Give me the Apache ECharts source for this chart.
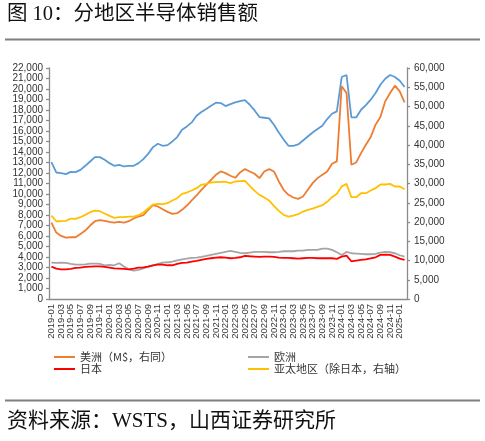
<!DOCTYPE html>
<html>
<head>
<meta charset="utf-8">
<script src="https://cdn.jsdelivr.net/npm/echarts@6/dist/echarts.min.js"></script>
<style>
html,body{margin:0;padding:0;background:#fff;}
#c{width:485px;height:441px;}
</style>
</head>
<body>
<div id="c"></div>
<script>
// Months 2019-01 .. 2025-02
const months = [];
for (let y = 2019; y <= 2025; y++) {
  for (let m = 1; m <= 12; m++) {
    if (y === 2025 && m > 2) break;
    months.push(y + '-' + (m < 10 ? '0' + m : m));
  }
}

// 全球 (right axis, M$)
const world = [35547,32860,32686,32426,33033,32946,33553,34593,35720,36848,36848,36154,35287,34593,34853,34420,34593,34593,35287,36327,37715,39449,40316,39795,39969,
40922,42050,43957,44824,45864,47598,48552,49332,50199,50980,50893,50113,50633,51066,51413,51673,50459,48986,47252,47078,46905,45257,43263,41400,39795,
39795,40142,41183,42223,43263,44130,44997,46731,48119,48725,57656,58176,47165,47165,49159,50373,51760,53494,55661,57222,58176,57656,56702,55055];

// 美洲 (left axis)
const americas = [7282,6328,6010,5851,5883,5883,6201,6519,6996,7409,7505,7441,7346,7282,7346,7282,7409,7664,7855,7982,8491,8936,8809,8554,8300,
8109,8173,8491,8904,9381,9858,10399,10876,11353,11830,12148,11989,11735,11544,12053,12371,12148,11925,11512,12148,12371,12148,11194,10399,9922,
9667,9540,9763,10399,11035,11512,11830,12148,12879,13102,20257,19621,12784,13006,13897,14692,15423,16600,17331,18826,19621,20320,19780,18730];

// 欧洲 (left axis)
const europe = [3466,3434,3466,3434,3339,3275,3275,3307,3371,3371,3339,3212,3244,3212,3403,3085,2830,2703,2767,2926,3085,3212,3339,3466,3498,
3562,3689,3784,3848,3911,3943,4007,4102,4198,4293,4388,4484,4579,4484,4388,4357,4420,4484,4484,4484,4452,4452,4484,4547,4547,
4547,4611,4611,4675,4675,4675,4802,4802,4675,4452,4198,4484,4357,4325,4293,4261,4261,4293,4420,4484,4452,4357,4166,4039];

// 日本 (left axis)
const japan = [3085,2894,2830,2830,2862,2957,2989,3053,3085,3116,3116,3053,2989,2926,2894,2862,2830,2894,2989,3021,3085,3212,3275,3275,3212,
3212,3339,3434,3466,3562,3625,3721,3816,3880,3943,3975,3943,3880,3911,3975,4102,4070,4039,4007,4039,4039,4007,3943,3911,3911,
3880,3848,3880,3911,3911,3880,3880,3880,3880,3816,4039,4134,3593,3657,3721,3784,3880,3975,4198,4229,4198,4039,3848,3721];

// 亚太地区（除日本，右轴）
const asiaPac = [21675,20201,20201,20288,20895,20808,21242,21848,22542,22976,22802,22195,21588,21068,21242,21242,21415,21415,21762,22455,23496,24536,24710,24623,24883,
25577,26183,27311,27657,28178,28784,29651,29912,30258,30345,30432,30432,30085,30518,30605,30692,29391,28091,27050,26357,25577,24189,22889,21848,21415,
21675,22022,22715,23149,23496,23929,24363,25230,26444,27311,29218,29912,26444,26444,27484,27484,28178,28784,29738,29738,29912,29218,29218,28524];

const names = ['美洲（M$，右同）', '欧洲', '日本', '亚太地区（除日本，右轴）', '全球'];
const colors = ['#ED7D31', '#A5A5A5', '#FF0000', '#FFC000', '#5B9BD5'];

const chart = echarts.init(document.getElementById('c'), null, {renderer: 'canvas'});
const fmt = v => Number(v).toLocaleString('en-US');
const axisFont = {fontFamily: "'Liberation Sans', Arial, sans-serif", fontSize: 10, color: '#333'};
const axisLineStyle = {color: '#8c8c8c', width: 1.3};

function legendAt(name, left, top) {
  return {
    data: [name], left: left, top: top, icon: 'rect', itemWidth: 21, itemHeight: 2,
    padding: 0, selectedMode: false,
    textStyle: {fontFamily: "'Noto Sans CJK SC', sans-serif", fontSize: 11, color: '#333', lineHeight: 12}
  };
}

function line(name, data, color, axis, z) {
  return {
    name: name, type: 'line', data: data, yAxisIndex: axis, showSymbol: false, symbol: 'none',
    lineStyle: {color: color, width: 1.8}, itemStyle: {color: color}, z: z, animation: false
  };
}

chart.setOption({
  animation: false,
  color: colors,
  grid: {left: 49, right: 78, top: 68, bottom: 142, containLabel: false},
  legend: [
    legendAt(names[0], 54, 351),
    legendAt(names[1], 248, 351),
    legendAt(names[2], 54, 363),
    legendAt(names[3], 248, 363)
  ],
  xAxis: {
    type: 'category', data: months, boundaryGap: true,
    axisLine: {lineStyle: axisLineStyle},
    axisTick: {interval: 1, length: 3, lineStyle: axisLineStyle},
    axisLabel: Object.assign({
      interval: 0, rotate: 90, margin: 5, hideOverlap: false,
      formatter: (v, i) => (i % 2 === 0 ? v : '')
    }, axisFont, {fontSize: 9.5, lineHeight: 8}),
    splitLine: {show: false}
  },
  yAxis: [
    {
      type: 'value', min: 0, max: 22000, interval: 1000, position: 'left',
      axisLine: {show: true, lineStyle: axisLineStyle},
      axisTick: {show: true, length: 3, lineStyle: axisLineStyle},
      axisLabel: Object.assign({formatter: fmt, margin: 6}, axisFont),
      splitLine: {show: false}
    },
    {
      type: 'value', min: 0, max: 60000, interval: 5000, position: 'right',
      axisLine: {show: true, lineStyle: axisLineStyle},
      axisTick: {show: true, length: 3, lineStyle: axisLineStyle},
      axisLabel: Object.assign({formatter: fmt, margin: 7}, axisFont),
      splitLine: {show: false}
    }
  ],
  series: [
    line(names[4], world, colors[4], 1, 2),
    line(names[0], americas, colors[0], 0, 3),
    line(names[1], europe, colors[1], 0, 4),
    line(names[3], asiaPac, colors[3], 1, 5),
    line(names[2], japan, colors[2], 0, 6)
  ],
  graphic: [
    {type: 'text', left: 7, top: 4, style: {text: '图 10：分地区半导体销售额', font: "20.5px 'Liberation Serif', 'Noto Sans CJK SC'", fill: '#111'}},
    {type: 'line', shape: {x1: 5, y1: 39.5, x2: 480, y2: 39.5}, style: {stroke: '#7f7f7f', lineWidth: 2}},
    {type: 'line', shape: {x1: 5, y1: 400.5, x2: 480, y2: 400.5}, style: {stroke: '#7f7f7f', lineWidth: 2}},
    {type: 'text', left: 7, top: 411, style: {text: '资料来源：WSTS，山西证券研究所', font: "21px 'Liberation Serif', 'Noto Sans CJK SC'", fill: '#111'}}
  ]
});
</script>
</body>
</html>
